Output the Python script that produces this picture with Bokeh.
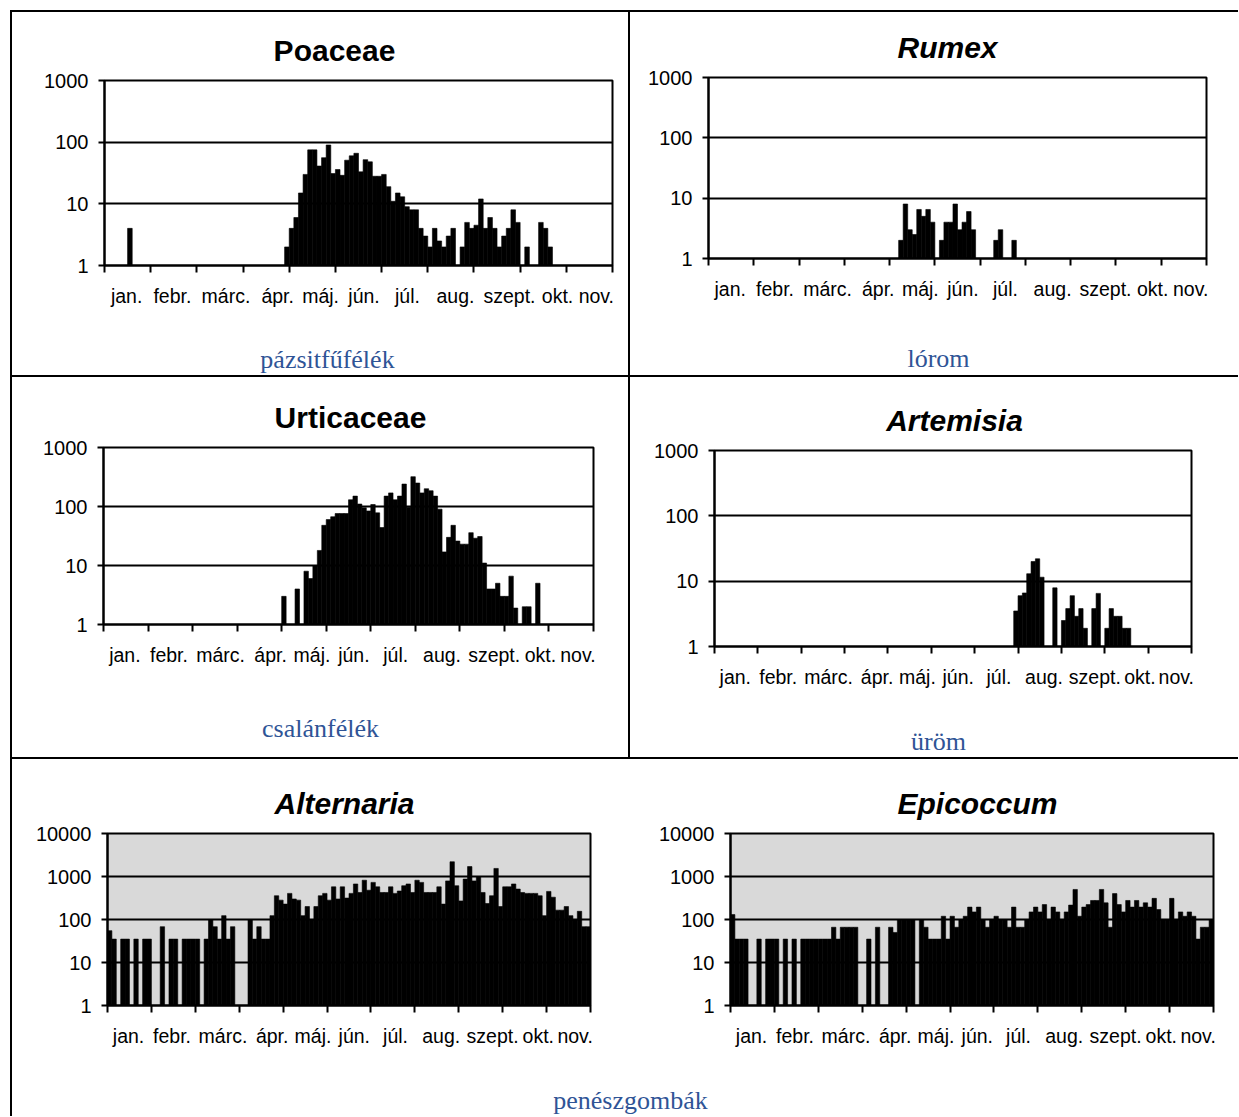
import numpy as np
from bokeh.plotting import figure
from bokeh.models import Range1d, FixedTicker, Label, Spacer, ColumnDataSource
from bokeh.layouts import column, row
from bokeh.embed import file_html
from bokeh.resources import INLINE

# ---------------- data ----------------
MONTHS = ["jan.", "febr.", "márc.", "ápr.", "máj.", "jún.", "júl.", "aug.", "szept.", "okt.", "nov."]
LABEL_POS = [0.48, 1.47, 2.63, 3.75, 4.68, 5.62, 6.56, 7.6, 8.77, 9.81, 10.65]
MONTH_EDGES = list(range(12))
BINS_PER_MONTH = 10  # 110 bins from January to November

POLLEN_TICKS = [1, 10, 100, 1000]
FUNGI_TICKS = [1, 10, 100, 1000, 10000]

POACEAE = ([0] * 5 + [4] + [0] * 33 +
           [2, 4, 6, 15, 30, 75, 75, 41, 56, 90, 31, 36, 29, 51, 60, 66, 33, 52, 48, 28,
            28, 30, 19, 11, 15, 13, 9, 8, 8, 4, 3, 2, 4, 2.5, 2, 3, 4, 0, 2, 5,
            4, 4.5, 12, 4, 6, 4, 2, 3, 4, 8, 5, 0, 2, 0, 0, 5, 4, 2] +
           [0] * 13)

RUMEX = ([0] * 42 +
         [2, 8, 3, 2.5, 6.5, 5, 6.5, 4, 0, 2, 4, 4, 8, 3, 4, 6, 3, 0, 0, 0, 0, 2, 3, 0, 0, 2] +
         [0] * 42)

URTICACEAE = ([0] * 40 +
              [3, 0, 0, 4, 0, 8, 6, 10, 18, 48, 60, 67, 76, 76, 76, 130, 150, 110, 95, 84,
               108, 78, 44, 150, 170, 130, 150, 240, 97, 320, 250, 170, 200, 185, 150, 90, 17, 30, 48, 26,
               23, 23, 36, 29, 31, 11, 4, 4, 5, 3, 3, 6.6, 1.9, 0, 2, 2, 0, 5] +
              [0] * 12)

ARTEMISIA = ([0] * 69 +
             [3.5, 6, 6.6, 13, 20, 22, 11.5, 0, 0, 7.9, 0, 2.5, 3.8, 6, 2.9, 3.8, 1.9, 0, 3.8, 6.5,
              0, 1.9, 3.8, 2.9, 2.9, 1.9, 1.9] +
             [0] * 14)

ALTERNARIA = [55, 35, 0, 35, 35, 0, 35, 0, 35, 35, 0, 0, 68, 0, 35, 35, 0, 35, 35, 35,
              35, 0, 35, 100, 68, 35, 123, 35, 68, 0, 0, 0, 100, 35, 68, 35, 35, 123, 357, 282,
              228, 405, 300, 282, 123, 200, 100, 200, 357, 405, 282, 575, 300, 575, 315, 405, 670, 425, 820, 480,
              730, 575, 425, 425, 575, 405, 460, 610, 670, 425, 820, 730, 425, 425, 425, 575, 228, 790, 2200, 610,
              270, 870, 1700, 790, 1000, 425, 235, 357, 1540, 200, 575, 575, 670, 510, 425, 405, 405, 405, 357, 123,
              450, 330, 165, 165, 200, 123, 100, 155, 68, 68]

EPICOCCUM = [130, 35, 35, 35, 0, 0, 35, 0, 35, 35, 35, 0, 35, 0, 35, 0, 35, 35, 35, 35,
             35, 35, 35, 66, 35, 66, 66, 66, 66, 0, 0, 35, 0, 66, 0, 0, 66, 50, 100, 100,
             100, 100, 0, 100, 66, 35, 35, 35, 119, 35, 119, 66, 100, 119, 194, 150, 194, 100, 66, 100,
             119, 100, 100, 66, 194, 66, 66, 100, 150, 194, 150, 222, 100, 194, 150, 100, 150, 216, 500, 119,
             194, 222, 277, 277, 500, 244, 66, 400, 222, 150, 277, 194, 277, 194, 244, 194, 310, 170, 100, 100,
             310, 100, 150, 119, 150, 119, 35, 66, 66, 100]

# ---------------- styling ----------------
SANS = "Liberation Sans"
SERIF = "Liberation Serif"
CAPTION_COLOR = "#2F5496"
PAD_TOP = 12
PAD_BOTTOM = 55
TITLE_HALF = 18     # half of the title text box height
CAPTION_HALF = 16   # half of the caption text box height

TITLE_KW = dict(text_font=SANS, text_font_size="30px", text_color="black")
CAPTION_KW = dict(text_font=SERIF, text_font_size="26px", text_color=CAPTION_COLOR)


def text_fig(w, h, items, x0=0, x1=None):
    """Blank canvas whose data coordinates equal pixels (y downwards).
    x0/x1: data range of its frame (the frame is aligned with the chart in the same column)."""
    p = figure(width=w, height=h, x_range=Range1d(x0, w if x1 is None else x1), y_range=Range1d(h, 0),
               output_backend="svg", toolbar_location=None,
               min_border_left=0, min_border_right=0, min_border_top=0, min_border_bottom=0)
    p.title.visible = False
    p.axis.visible = False
    p.grid.visible = False
    p.outline_line_color = None
    p.background_fill_color = None
    p.border_fill_color = None
    for x, y, text, kw in items:
        p.add_layout(Label(x=x, y=y, text=text, text_align="center", text_baseline="middle", **kw))
    return p


def chart(values, yticks, w, left, right, frame_h, bg="white"):
    h = PAD_TOP + frame_h + PAD_BOTTOM
    p = figure(width=w, height=h, x_range=Range1d(0, 11),
               y_range=Range1d(yticks[0], yticks[-1]), y_axis_type="log",
               output_backend="svg", toolbar_location=None,
               min_border_left=left, min_border_right=right,
               min_border_top=PAD_TOP, min_border_bottom=PAD_BOTTOM)
    p.title.visible = False
    p.background_fill_color = bg
    p.border_fill_color = "white"
    p.outline_line_color = "black"
    p.outline_line_width = 2

    vals = np.array(values, dtype=float)
    idx = np.nonzero(vals > 0)[0]
    src = ColumnDataSource(dict(x=(idx + 0.5) / BINS_PER_MONTH, top=vals[idx]))
    p.vbar(x="x", width=1.0 / BINS_PER_MONTH, bottom=yticks[0], top="top", source=src,
           fill_color="black", line_color="black", line_width=0.6)

    p.xgrid.visible = False
    p.ygrid.ticker = FixedTicker(ticks=yticks)
    p.ygrid.grid_line_color = "black"
    p.ygrid.grid_line_width = 2
    p.ygrid.minor_grid_line_color = None

    ya = p.yaxis[0]
    ya.ticker = FixedTicker(ticks=yticks)
    ya.major_label_overrides = {t: str(t) for t in yticks}
    ya.axis_line_color = "black"
    ya.axis_line_width = 2
    ya.major_tick_line_color = "black"
    ya.major_tick_line_width = 2
    ya.major_tick_out = 6
    ya.major_tick_in = 0
    ya.minor_tick_line_color = None
    ya.major_label_standoff = 10
    ya.major_label_text_font = SANS
    ya.major_label_text_font_size = "20px"
    ya.major_label_text_color = "black"

    xa = p.xaxis[0]
    xa.ticker = FixedTicker(ticks=LABEL_POS, minor_ticks=MONTH_EDGES)
    xa.major_label_overrides = {pos: m for pos, m in zip(LABEL_POS, MONTHS)}
    xa.axis_line_color = "black"
    xa.axis_line_width = 2
    xa.major_tick_line_color = None
    xa.major_tick_out = 0
    xa.major_tick_in = 0
    xa.minor_tick_line_color = "black"
    xa.minor_tick_line_width = 2
    xa.minor_tick_out = 7
    xa.minor_tick_in = 0
    xa.major_label_standoff = 12
    xa.major_label_text_font = SANS
    xa.major_label_text_font_size = "19.5px"
    xa.major_label_text_color = "black"
    return p


def cell(name, italic, values, yticks, w, h, left, right, frame_top, frame_h,
         title_xy, caption=None, caption_xy=None, bg="white"):
    """frame_top: distance of the plot frame from the top of the cell; xy are cell pixels."""
    top_h = frame_top - PAD_TOP
    style = "bold italic" if italic else "bold"
    ty = min(title_xy[1], top_h - TITLE_HALF)
    tfig = text_fig(w, top_h, [(title_xy[0], ty, name, dict(text_font_style=style, **TITLE_KW))],
                    x0=left, x1=w - right)
    cfig = chart(values, yticks, w, left, right, frame_h, bg)
    parts = [tfig, cfig]
    if h is not None:
        bottom_h = h - top_h - cfig.height
        cy = min(caption_xy[1] - top_h - cfig.height, bottom_h - CAPTION_HALF)
        parts.append(text_fig(w, bottom_h, [(caption_xy[0], cy, caption, CAPTION_KW)],
                              x0=left, x1=w - right))
    return column(*parts)


c1 = cell("Poaceae", False, POACEAE, POLLEN_TICKS, 616, 363, 92, 16, 68, 185,
          (322, 43), "pázsitfűfélék", (315, 348))
c2 = cell("Rumex", True, RUMEX, POLLEN_TICKS, 608, 363, 78, 32, 65, 181,
          (317, 40), "lórom", (308, 346))
c3 = cell("Urticaceae", False, URTICACEAE, POLLEN_TICKS, 616, 380, 91, 35, 70, 177,
          (338, 47), "csalánfélék", (308, 351))
c4 = cell("Artemisia", True, ARTEMISIA, POLLEN_TICKS, 608, 380, 84, 47, 73, 196,
          (324, 46), "üröm", (308, 366))
c5 = cell("Alternaria", True, ALTERNARIA, FUNGI_TICKS, 618, None, 95, 40, 74, 172,
          (332, 51), bg="#D9D9D9")
c6 = cell("Epicoccum", True, EPICOCCUM, FUNGI_TICKS, 608, None, 100, 25, 74, 172,
          (347, 51), bg="#D9D9D9")

ROW3_H = 357
fungi_h = 74 + 172 + PAD_BOTTOM
cap3_h = ROW3_H - fungi_h
cap3 = text_fig(1226, cap3_h,
                [(618, min(1105 - 759 - fungi_h, cap3_h - CAPTION_HALF), "penészgombák", CAPTION_KW)])


def hline(w):
    return Spacer(width=w, height=2, styles={"background-color": "black"})


def vline(h):
    return Spacer(width=2, height=h, styles={"background-color": "black"})


table = column(
    hline(1228),
    row(vline(363), c1, vline(363), c2),
    hline(1228),
    row(vline(380), c3, vline(380), c4),
    hline(1228),
    row(vline(ROW3_H), column(row(c5, c6), cap3)),
)
root = column(Spacer(width=1238, height=10), row(Spacer(width=10, height=1106), table))

open("out.html", "w").write(file_html(root, INLINE))
